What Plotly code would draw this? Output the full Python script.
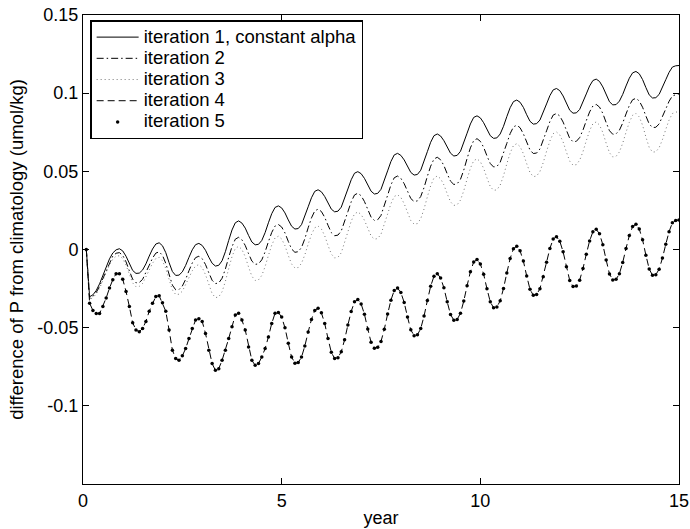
import plotly.graph_objects as go

# time axis: monthly samples, months 1..180 -> years
year = [k / 12 for k in range(1, 181)]

iter1 = [
    0.0000, -0.0302, -0.0290, -0.0262, -0.0220, -0.0168, -0.0112, -0.0060, -0.0022, -0.0002, 0.0005,
    -0.0009, -0.0043, -0.0091, -0.0134, -0.0153, -0.0151, -0.0131, -0.0092, -0.0042, 0.0003, 0.0035, 0.0043,
    0.0024, -0.0020, -0.0084, -0.0141, -0.0166, -0.0164, -0.0143, -0.0102, -0.0050, -0.0002, 0.0031, 0.0039,
    0.0026, -0.0005, -0.0049, -0.0088, -0.0106, -0.0101, -0.0072, -0.0014, 0.0058, 0.0125, 0.0171, 0.0183,
    0.0169, 0.0137, 0.0090, 0.0048, 0.0030, 0.0033, 0.0058, 0.0108, 0.0171, 0.0229, 0.0269, 0.0279,
    0.0266, 0.0234, 0.0189, 0.0149, 0.0131, 0.0134, 0.0159, 0.0210, 0.0273, 0.0331, 0.0372, 0.0382,
    0.0369, 0.0339, 0.0297, 0.0258, 0.0241, 0.0245, 0.0271, 0.0323, 0.0387, 0.0446, 0.0488, 0.0498,
    0.0485, 0.0455, 0.0412, 0.0373, 0.0355, 0.0359, 0.0385, 0.0438, 0.0503, 0.0563, 0.0605, 0.0615,
    0.0602, 0.0573, 0.0531, 0.0493, 0.0476, 0.0480, 0.0507, 0.0560, 0.0626, 0.0686, 0.0728, 0.0739,
    0.0726, 0.0696, 0.0654, 0.0616, 0.0598, 0.0602, 0.0628, 0.0680, 0.0744, 0.0803, 0.0845, 0.0855,
    0.0842, 0.0811, 0.0767, 0.0728, 0.0711, 0.0714, 0.0739, 0.0788, 0.0850, 0.0907, 0.0946, 0.0956,
    0.0942, 0.0909, 0.0862, 0.0820, 0.0802, 0.0805, 0.0828, 0.0874, 0.0931, 0.0984, 0.1021, 0.1030,
    0.1016, 0.0982, 0.0934, 0.0891, 0.0872, 0.0874, 0.0896, 0.0940, 0.0995, 0.1046, 0.1081, 0.1090,
    0.1075, 0.1040, 0.0990, 0.0945, 0.0925, 0.0927, 0.0949, 0.0992, 0.1046, 0.1096, 0.1130, 0.1139,
    0.1124, 0.1087, 0.1036, 0.0989, 0.0969, 0.0971, 0.0992, 0.1034, 0.1086, 0.1133, 0.1167, 0.1175, 0.1177,
]

iter2 = [
    0.0000, -0.0315, -0.0300, -0.0275, -0.0235, -0.0185, -0.0130, -0.0080, -0.0042, -0.0024, -0.0020,
    -0.0038, -0.0079, -0.0137, -0.0190, -0.0213, -0.0211, -0.0191, -0.0151, -0.0101, -0.0055, -0.0023, -0.0015,
    -0.0037, -0.0089, -0.0162, -0.0228, -0.0258, -0.0256, -0.0234, -0.0191, -0.0136, -0.0086, -0.0052, -0.0043,
    -0.0059, -0.0096, -0.0149, -0.0197, -0.0218, -0.0214, -0.0184, -0.0125, -0.0050, 0.0018, 0.0066, 0.0078,
    0.0062, 0.0026, -0.0027, -0.0074, -0.0095, -0.0092, -0.0066, -0.0015, 0.0050, 0.0109, 0.0150, 0.0160,
    0.0144, 0.0106, 0.0052, 0.0003, -0.0018, -0.0014, 0.0013, 0.0069, 0.0139, 0.0202, 0.0247, 0.0258,
    0.0243, 0.0206, 0.0155, 0.0108, 0.0088, 0.0092, 0.0119, 0.0174, 0.0242, 0.0305, 0.0349, 0.0360,
    0.0344, 0.0307, 0.0254, 0.0207, 0.0186, 0.0190, 0.0218, 0.0276, 0.0347, 0.0413, 0.0459, 0.0470,
    0.0455, 0.0421, 0.0371, 0.0326, 0.0307, 0.0311, 0.0339, 0.0396, 0.0468, 0.0533, 0.0579, 0.0590,
    0.0574, 0.0537, 0.0484, 0.0437, 0.0416, 0.0420, 0.0449, 0.0508, 0.0582, 0.0650, 0.0697, 0.0709,
    0.0692, 0.0654, 0.0599, 0.0550, 0.0528, 0.0531, 0.0558, 0.0612, 0.0679, 0.0741, 0.0784, 0.0795,
    0.0779, 0.0740, 0.0685, 0.0636, 0.0614, 0.0617, 0.0643, 0.0695, 0.0759, 0.0818, 0.0860, 0.0870,
    0.0854, 0.0815, 0.0760, 0.0711, 0.0689, 0.0692, 0.0716, 0.0764, 0.0824, 0.0880, 0.0918, 0.0928,
    0.0911, 0.0870, 0.0812, 0.0760, 0.0737, 0.0740, 0.0763, 0.0809, 0.0867, 0.0921, 0.0958, 0.0967,
    0.0950, 0.0910, 0.0854, 0.0803, 0.0780, 0.0782, 0.0803, 0.0846, 0.0899, 0.0948, 0.0982, 0.0990, 0.0995,
]

iter3 = [
    0.0000, -0.0320, -0.0308, -0.0285, -0.0248, -0.0200, -0.0147, -0.0098, -0.0062, -0.0043, -0.0040,
    -0.0058, -0.0100, -0.0160, -0.0214, -0.0238, -0.0236, -0.0217, -0.0179, -0.0132, -0.0088, -0.0058, -0.0050,
    -0.0072, -0.0122, -0.0194, -0.0259, -0.0288, -0.0286, -0.0267, -0.0228, -0.0180, -0.0136, -0.0105, -0.0097,
    -0.0116, -0.0161, -0.0225, -0.0282, -0.0308, -0.0303, -0.0270, -0.0204, -0.0122, -0.0046, 0.0007, 0.0020,
    0.0000, -0.0046, -0.0112, -0.0171, -0.0198, -0.0194, -0.0166, -0.0109, -0.0038, 0.0028, 0.0074, 0.0085,
    0.0067, 0.0024, -0.0038, -0.0093, -0.0118, -0.0115, -0.0088, -0.0034, 0.0034, 0.0096, 0.0139, 0.0150,
    0.0131, 0.0088, 0.0026, -0.0029, -0.0054, -0.0050, -0.0021, 0.0039, 0.0113, 0.0181, 0.0228, 0.0240,
    0.0224, 0.0187, 0.0134, 0.0087, 0.0066, 0.0070, 0.0098, 0.0156, 0.0227, 0.0293, 0.0339, 0.0350,
    0.0333, 0.0293, 0.0236, 0.0185, 0.0162, 0.0166, 0.0197, 0.0259, 0.0337, 0.0408, 0.0458, 0.0470,
    0.0453, 0.0413, 0.0356, 0.0305, 0.0282, 0.0286, 0.0316, 0.0376, 0.0451, 0.0520, 0.0568, 0.0580,
    0.0562, 0.0519, 0.0458, 0.0403, 0.0378, 0.0382, 0.0412, 0.0472, 0.0548, 0.0617, 0.0665, 0.0677,
    0.0658, 0.0613, 0.0549, 0.0492, 0.0466, 0.0470, 0.0499, 0.0556, 0.0628, 0.0694, 0.0741, 0.0752,
    0.0733, 0.0688, 0.0623, 0.0565, 0.0539, 0.0543, 0.0571, 0.0626, 0.0696, 0.0760, 0.0805, 0.0816,
    0.0796, 0.0748, 0.0680, 0.0619, 0.0592, 0.0596, 0.0624, 0.0680, 0.0750, 0.0814, 0.0859, 0.0870,
    0.0848, 0.0795, 0.0720, 0.0653, 0.0623, 0.0625, 0.0651, 0.0703, 0.0768, 0.0828, 0.0870, 0.0880, 0.0885,
]

iter4 = [
    0.0000, -0.0344, -0.0390, -0.0410, -0.0410, -0.0365, -0.0310, -0.0247, -0.0193, -0.0155, -0.0155,
    -0.0190, -0.0268, -0.0365, -0.0468, -0.0515, -0.0526, -0.0505, -0.0460, -0.0395, -0.0344, -0.0300, -0.0296,
    -0.0340, -0.0395, -0.0515, -0.0644, -0.0698, -0.0709, -0.0680, -0.0634, -0.0570, -0.0505, -0.0451, -0.0443,
    -0.0460, -0.0537, -0.0644, -0.0730, -0.0773, -0.0762, -0.0709, -0.0644, -0.0570, -0.0494, -0.0419, -0.0408,
    -0.0451, -0.0515, -0.0623, -0.0709, -0.0741, -0.0730, -0.0687, -0.0634, -0.0559, -0.0473, -0.0408, -0.0403,
    -0.0432, -0.0501, -0.0599, -0.0688, -0.0727, -0.0723, -0.0688, -0.0617, -0.0528, -0.0447, -0.0390, -0.0376,
    -0.0405, -0.0473, -0.0570, -0.0658, -0.0697, -0.0692, -0.0654, -0.0578, -0.0483, -0.0396, -0.0335, -0.0320,
    -0.0348, -0.0414, -0.0508, -0.0593, -0.0631, -0.0626, -0.0588, -0.0510, -0.0413, -0.0324, -0.0262, -0.0247,
    -0.0275, -0.0339, -0.0431, -0.0514, -0.0551, -0.0546, -0.0506, -0.0426, -0.0327, -0.0235, -0.0171, -0.0155,
    -0.0182, -0.0245, -0.0335, -0.0416, -0.0452, -0.0447, -0.0408, -0.0330, -0.0232, -0.0142, -0.0080, -0.0064,
    -0.0092, -0.0158, -0.0251, -0.0335, -0.0373, -0.0368, -0.0328, -0.0249, -0.0150, -0.0058, 0.0005, 0.0021,
    -0.0008, -0.0074, -0.0169, -0.0255, -0.0293, -0.0288, -0.0251, -0.0175, -0.0081, 0.0006, 0.0067, 0.0082,
    0.0053, -0.0015, -0.0111, -0.0198, -0.0237, -0.0233, -0.0196, -0.0122, -0.0030, 0.0055, 0.0114, 0.0129,
    0.0100, 0.0031, -0.0067, -0.0156, -0.0195, -0.0191, -0.0155, -0.0083, 0.0007, 0.0089, 0.0147, 0.0161,
    0.0131, 0.0062, -0.0036, -0.0125, -0.0165, -0.0161, -0.0126, -0.0055, 0.0033, 0.0114, 0.0171, 0.0185, 0.0189,
]

# iteration 5 lies on top of iteration 4 in the figure
iter5 = list(iter4)

names = [
    "iteration 1, constant alpha",
    "iteration 2",
    "iteration 3",
    "iteration 4",
    "iteration 5",
]

x_ticks = [0, 5, 10, 15]
y_ticks = [-0.1, -0.05, 0, 0.05, 0.1, 0.15]
y_tick_text = ["-0.1", "-0.05", "0", "0.05", "0.1", "0.15"]

FONT = "Liberation Sans, Arial, Helvetica, sans-serif"


def lab(s):
    return '<span style="font-size:18.5px">' + s + "</span>"


fig = go.Figure()
fig.add_trace(go.Scatter(x=year, y=iter1, mode="lines", name=lab(names[0]),
                         line=dict(color="black", width=1)))
fig.add_trace(go.Scatter(x=year, y=iter2, mode="lines", name=lab(names[1]),
                         line=dict(color="black", width=1, dash="7px,3px,1.5px,3px")))
fig.add_trace(go.Scatter(x=year, y=iter3, mode="lines", name=lab(names[2]),
                         line=dict(color="#777777", width=1, dash="1px,3px")))
fig.add_trace(go.Scatter(x=year, y=iter4, mode="lines", name=lab(names[3]),
                         line=dict(color="black", width=1, dash="7px,4px")))
fig.add_trace(go.Scatter(x=year, y=iter5, mode="markers", name=lab(names[4]),
                         marker=dict(color="black", size=3.5, symbol="circle",
                                     line=dict(width=0))))

axis_common = dict(
    showline=True, linecolor="black", linewidth=1, mirror="ticks",
    ticks="inside", ticklen=6, tickcolor="black", tickwidth=1,
    showgrid=False, zeroline=False, automargin=False,
    tickfont=dict(family=FONT, size=18, color="black"),
)

fig.update_layout(
    template="none",
    width=690, height=529,
    margin=dict(l=83, r=11, t=15, b=45, pad=0),
    paper_bgcolor="white", plot_bgcolor="white",
    font=dict(family=FONT, size=18, color="black"),
    xaxis=dict(range=[0, 15], tickvals=x_ticks,
               title=dict(text="year", font=dict(family=FONT, size=18), standoff=1),
               **axis_common),
    yaxis=dict(range=[-0.15, 0.15], tickvals=y_ticks, ticktext=y_tick_text,
               title=dict(text="difference of P from climatology (umol/kg)",
                          font=dict(family=FONT, size=18.5), standoff=8),
               **axis_common),
    showlegend=True,
    legend=dict(x=0.012, y=0.9893, xanchor="left", yanchor="top",
                bgcolor="white", bordercolor="black", borderwidth=1.5,
                font=dict(family=FONT, size=14, color="black"),
                itemwidth=42, tracegroupgap=0),
)

fig.write_html("out.html")
